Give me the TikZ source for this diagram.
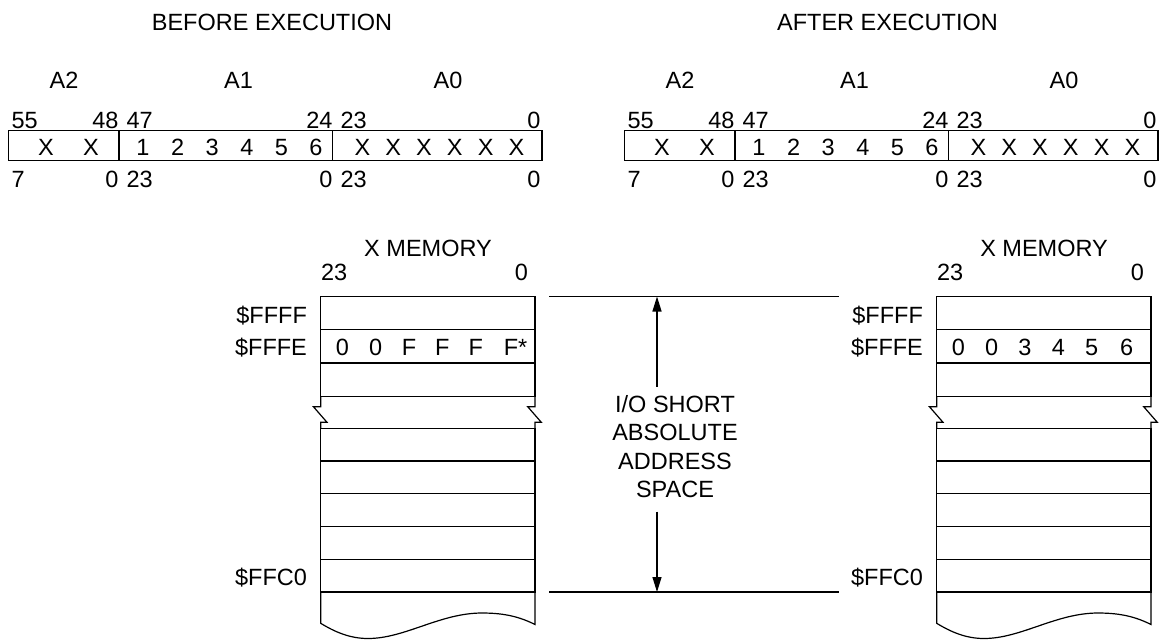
\documentclass[tikz,border=0pt]{standalone}
\usepackage{fontspec}
\setmainfont{Liberation Sans}
\usetikzlibrary{arrows.meta}
\newcommand{\dfs}{\fontsize{23.5}{28.5}\selectfont}
\begin{document}
\begin{tikzpicture}[x=1pt,y=-1pt,line width=1.2pt,
  lbl/.style={inner sep=0pt,font=\dfs,text height=16.9pt,text depth=0pt},
  regbox/.style={draw,inner sep=0pt,minimum height=30.4pt},
  memrow/.style={draw,inner sep=0pt,minimum width=214.3pt,minimum height=#1},
  dimarrow/.style={-{Triangle[length=15pt,width=9pt]}},
  guide/.style={line width=1.2pt}]
\useasboundingbox (0,0) rectangle (1161,640);
% titles
\node[lbl] (titleL) at (272,22) {BEFORE EXECUTION};
\node[lbl] (titleR) at (887.5,22) {AFTER EXECUTION};
\foreach \o/\s in {0/L,616/R} {
  % register
  \node[regbox,minimum width=110.5pt] (a2\s) at (63.75+\o,145.5) {};
  \node[regbox,minimum width=213.5pt] (a1\s) at (225.75+\o,145.5) {};
  \node[regbox,minimum width=209.5pt] (a0\s) at (437.25+\o,145.5) {};
  \node[lbl] (na2\s) at (64+\o,80) {A2};
  \node[lbl] (na1\s) at (238.5+\o,80) {A1};
  \node[lbl] (na0\s) at (448+\o,80) {A0};
  % bit numbers
  \node[lbl,anchor=west] (b55\s) at (11+\o,120) {55};
  \node[lbl,anchor=east] (b48\s) at (119+\o,120) {48};
  \node[lbl,anchor=west] (b47\s) at (126+\o,120) {47};
  \node[lbl,anchor=east] (b24\s) at (333+\o,120) {24};
  \node[lbl,anchor=west] (b23\s) at (340+\o,120) {23};
  \node[lbl,anchor=east] (b0\s) at (541+\o,120) {0};
  \node[lbl,anchor=west] (c7\s) at (11+\o,179) {7};
  \node[lbl,anchor=east] (c0a\s) at (119+\o,179) {0};
  \node[lbl,anchor=west] (c23a\s) at (126+\o,179) {23};
  \node[lbl,anchor=east] (c0b\s) at (333+\o,179) {0};
  \node[lbl,anchor=west] (c23b\s) at (340+\o,179) {23};
  \node[lbl,anchor=east] (c0c\s) at (541+\o,179) {0};
  % register contents
  \foreach \x/\t [count=\i] in {46/X,91/X,143/1,177.6/2,212.2/3,246.8/4,281.4/5,316/6,362.4/X,393.2/X,424/X,454.8/X,485.6/X,516.4/X}
    \node[lbl] (r\s\i) at (\x+\o,147) {\t};
  % memory
  \node[lbl] (xm\s) at (428+\o,248) {X MEMORY};
  \node[lbl,anchor=west] (m23\s) at (320.5+\o,272.5) {23};
  \node[lbl,anchor=east] (m0\s) at (528.5+\o,272.5) {0};
  \node[memrow=33pt] (ffff\s) at (427.85+\o,313) {};
  \node[memrow=33.5pt] (fffe\s) at (427.85+\o,346.25) {};
  \node[memrow=33.5pt] (rowc\s) at (427.85+\o,379.75) {};
  \foreach \y [count=\i] in {444.67,477.4,510.15,542.9,575.65}
    \node[memrow=32.74pt] (low\s\i) at (427.85+\o,\y) {};
  \node[lbl,anchor=east] (lffff\s) at (307.5+\o,315.5) {\$FFFF};
  \node[lbl,anchor=east] (lfffe\s) at (307.5+\o,347.5) {\$FFFE};
  \node[lbl,anchor=east] (lffc0\s) at (307.5+\o,577) {\$FFC0};
  % break marks
  \foreach \xx in {320.7,535} {
    \draw ({\xx+\o},396.5) -- ({\xx+\o},406.7) -- ({\xx+\o-7.3},406.7)
      -- ({\xx+\o+6.3},422.3) -- ({\xx+\o},422.3) -- ({\xx+\o},428.3);
  }
  % bottom torn edge
  \draw ({320.7+\o},592) -- ({320.7+\o},623.3)
    .. controls ({335+\o},632) and ({350+\o},638.5) .. ({368+\o},638.5)
    .. controls ({405+\o},638.5) and ({440+\o},613) .. ({482+\o},613)
    .. controls ({505+\o},613) and ({520+\o},617) .. ({535+\o},624.5)
    -- ({535+\o},592);
}
% row contents
\foreach \x/\t [count=\i] in {342.3/0,375.7/0,409/F,442.3/F,475.7/F,511/F\rlap{*}}
  \node[lbl] (vL\i) at (\x,347.5) {\t};
\foreach \x/\t [count=\i] in {342.3/0,375.7/0,409/3,442.3/4,475.7/5,510.7/6}
  \node[lbl] (vR\i) at (\x+616,347.5) {\t};
% I/O short absolute address space
\coordinate (ioTopA) at (549,296.5);
\coordinate (ioTopB) at (839,296.5);
\coordinate (ioBotA) at (549,592);
\coordinate (ioBotB) at (839,592);
\draw[guide] (ioTopA) -- (ioTopB);
\draw[guide] (ioBotA) -- (ioBotB);
\node[inner sep=0pt,font=\dfs,align=center,anchor=north] (io) at (675,394.5)
  {I/O SHORT\\ABSOLUTE\\ADDRESS\\SPACE};
\coordinate (arrUp) at (657,386.7);
\coordinate (arrUpEnd) at (657,296.5);
\coordinate (arrDn) at (657,511.7);
\coordinate (arrDnEnd) at (657,592);
\draw[dimarrow] (arrUp) -- (arrUpEnd);
\draw[dimarrow] (arrDn) -- (arrDnEnd);
\end{tikzpicture}
\end{document}
